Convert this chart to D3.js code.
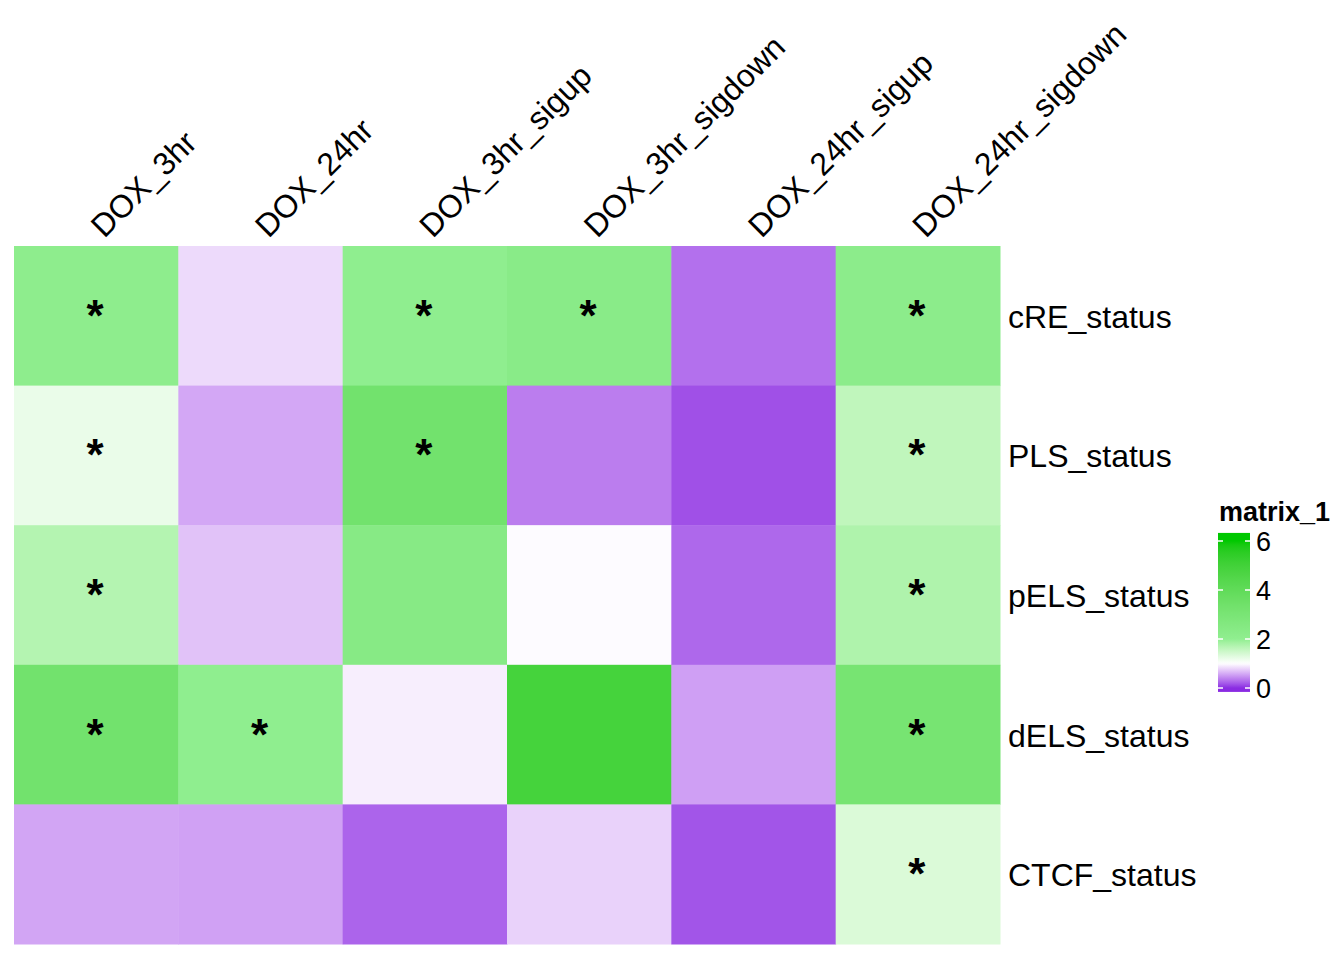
<!DOCTYPE html>
<html><head><meta charset="utf-8">
<script src="https://cdn.jsdelivr.net/npm/d3@7"></script>
<style>body{margin:0;background:#fff}svg{display:block}</style>
</head><body>
<svg id="chart" width="1344" height="960"></svg>
<script>
const columns = ["DOX_3hr","DOX_24hr","DOX_3hr_sigup","DOX_3hr_sigdown","DOX_24hr_sigup","DOX_24hr_sigdown"];
const rows = ["cRE_status","PLS_status","pELS_status","dELS_status","CTCF_status"];
const values = [
  [2.10, 0.82, 2.05, 2.30, 0.30, 2.20],
  [1.20, 0.57, 3.30, 0.36, 0.15, 1.60],
  [1.70, 0.70, 2.40, 0.98, 0.26, 1.75],
  [3.30, 2.05, 0.92, 4.90, 0.53, 3.10],
  [0.56, 0.54, 0.24, 0.78, 0.17, 1.35]
];
const signif = [
  [1,0,1,1,0,1],
  [1,0,1,0,0,1],
  [1,0,0,0,0,1],
  [1,1,0,0,0,1],
  [0,0,0,0,0,1]
];
const legendTicks = [0,2,4,6];
const colorStops = [0, 1, 2, 6];
const colorRange = ["#8A2BE2", "#FFFFFF", "#90EE90", "#00C800"];

const FONT = "Liberation Sans, Arial, sans-serif";
const svg = d3.select("#chart");
const x = d3.scaleBand().domain(columns).range([14, 1000]);
const y = d3.scaleBand().domain(rows).range([246, 944]);
const color = d3.scaleLinear().domain(colorStops).range(colorRange).interpolate(d3.interpolateLab).clamp(true);

const cells = [];
rows.forEach((r,i)=>columns.forEach((c,j)=>cells.push({r,c,v:values[i][j],s:signif[i][j]})));

svg.append("g").selectAll("rect").data(cells).join("rect")
  .attr("x", d=>x(d.c)).attr("y", d=>y(d.r))
  .attr("width", x.bandwidth()+0.5).attr("height", y.bandwidth()+0.5)
  .attr("fill", d=>color(d.v));

svg.append("g").selectAll("text").data(cells.filter(d=>d.s)).join("text")
  .attr("x", d=>x(d.c)+x.bandwidth()/2-1).attr("y", d=>y(d.r)+y.bandwidth()/2+15)
  .attr("text-anchor","middle")
  .style("font-family",FONT).style("font-size","44px").style("font-weight","bold")
  .text("*");

// column labels
svg.append("g").selectAll("text").data(columns).join("text")
  .attr("transform", d=>`translate(${x(d)+x.bandwidth()/2+8},${239}) rotate(-45)`)
  .style("font-family",FONT).style("font-size","32px")
  .text(d=>d);

// row labels
svg.append("g").selectAll("text").data(rows).join("text")
  .attr("x", 1008).attr("y", d=>y(d)+y.bandwidth()/2+12)
  .style("font-family",FONT).style("font-size","32px")
  .text(d=>d);

// legend
const ly = d3.scaleLinear().domain([0,6]).range([688,541]);
const lg = svg.append("g");
lg.append("text").attr("x",1219).attr("y",521)
  .style("font-family",FONT).style("font-size","27px").style("font-weight","bold")
  .text("matrix_1");
const defs = svg.append("defs");
const grad = defs.append("linearGradient").attr("id","lgrad").attr("x1",0).attr("x2",0).attr("y1",1).attr("y2",0);
const lo = -0.16, hi = 6.33;
d3.range(0,81).forEach(k=>{
  const v = lo + (hi-lo)*k/80;
  grad.append("stop").attr("offset",(k/80)).attr("stop-color",color(v));
});
lg.append("rect").attr("x",1218).attr("y",ly(hi)).attr("width",32).attr("height",ly(lo)-ly(hi)).attr("fill","url(#lgrad)");
legendTicks.forEach(t=>{
  lg.append("line").attr("x1",1218).attr("x2",1223).attr("y1",ly(t)).attr("y2",ly(t)).attr("stroke","#fff").attr("stroke-width",1.5);
  lg.append("line").attr("x1",1245).attr("x2",1250).attr("y1",ly(t)).attr("y2",ly(t)).attr("stroke","#fff").attr("stroke-width",1.5);
});
lg.selectAll("text.tick").data(legendTicks).join("text").attr("class","tick")
  .attr("x",1256).attr("y",t=>ly(t)+10)
  .style("font-family",FONT).style("font-size","27px")
  .text(t=>t);
</script>
</body></html>
